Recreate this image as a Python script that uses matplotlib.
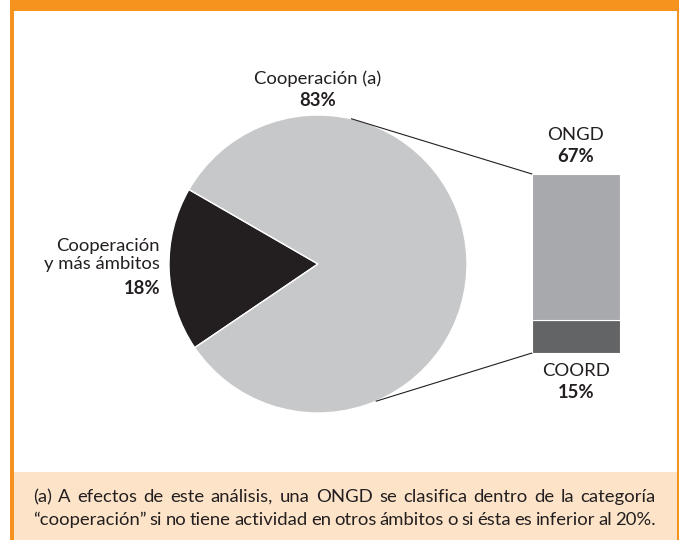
import matplotlib
matplotlib.use("Agg")
import matplotlib.pyplot as plt
import numpy as np

# datos
pie_labels = ["Cooperación\ny más ámbitos", "Cooperación (a)"]
pie_values = [18, 83]
pie_pct = ["18%", "83%"]
bar_labels = ["COORD", "ONGD"]
bar_values = [15, 67]
bar_pct = ["15%", "67%"]
nota = ["(a) A efectos de este análisis, una ONGD se clasifica dentro de la categoría",
        "\u201ccooperación\u201d si no tiene actividad en otros ámbitos o si ésta es inferior al 20%."]

# colores
naranja = "#f6921e"
melocoton = "#fde4c9"
gris_claro = "#c7c8ca"
negro = "#231f20"
gris_ongd = "#a7a9ac"
gris_coord = "#636466"
txt = "#231f20"

plt.rcParams['font.family'] = ['Lato', 'DejaVu Sans']
fs = 13.3

W, H = 679, 540
fig = plt.figure(figsize=(W / 100, H / 100), dpi=100)
ax = fig.add_axes([0, 0, 1, 1])

def Y(y):
    return H - y

# marco naranja
ax.add_patch(plt.Rectangle((10, Y(11)), W - 10, 11, color=naranja, lw=0))
ax.add_patch(plt.Rectangle((10, 0), 3.5, H, color=naranja, lw=0))
ax.add_patch(plt.Rectangle((676.5, 0), 3, H, color=naranja, lw=0))
ax.add_patch(plt.Rectangle((13.5, 0), 663, Y(472), color=melocoton, lw=0))

# tarta
cx, cy, r = 318, Y(264), 149
start = 150
ax.pie(pie_values, colors=[negro, gris_claro], startangle=start, center=(cx, cy),
       radius=r, wedgeprops=dict(edgecolor='white', linewidth=1), frame=True)
ax.set_xlim(0, W)
ax.set_ylim(0, H)
ax.set_aspect('equal')
ax.axis('off')

# etiquetas tarta
ax.text(160, Y(255), pie_labels[0], ha='right', va='center', fontsize=fs,
        color=txt, linespacing=1.2)
ax.text(160, Y(288), pie_pct[0], ha='right', va='center', fontsize=fs,
        color=txt, fontweight='bold')
ax.text(cx, Y(79), pie_labels[1], ha='center', va='center', fontsize=fs, color=txt)
ax.text(cx, Y(101), pie_pct[1], ha='center', va='center', fontsize=fs,
        color=txt, fontweight='bold')

# barra apilada
bx0, bx1, by0, by1 = 532, 620, 353, 174
bax = fig.add_axes([bx0 / W, Y(by0) / H, (bx1 - bx0) / W, (by0 - by1) / H])
bax.bar(0, bar_values[0], width=1, color=gris_coord, edgecolor='white', linewidth=0.8)
bax.bar(0, bar_values[1], width=1, bottom=bar_values[0], color=gris_ongd,
        edgecolor='white', linewidth=0.8)
bax.set_xlim(-0.5, 0.5)
bax.set_ylim(0, sum(bar_values))
bax.axis('off')

bxc = (bx0 + bx1) / 2
ax.text(bxc, Y(135), bar_labels[1], ha='center', va='center', fontsize=fs, color=txt)
ax.text(bxc, Y(157), bar_pct[1], ha='center', va='center', fontsize=fs,
        color=txt, fontweight='bold')
ax.text(bxc, Y(371), bar_labels[0], ha='center', va='center', fontsize=fs, color=txt)
ax.text(bxc, Y(393), bar_pct[0], ha='center', va='center', fontsize=fs,
        color=txt, fontweight='bold')

# lineas de union
for ang, yb in [(77, by1), (-67, by0)]:
    a = np.radians(ang)
    px, py = cx + r * np.cos(a), cy + r * np.sin(a)
    ax.plot([px, bx0], [py, Y(yb)], color=negro, lw=0.8)

# nota al pie (lineas justificadas)
fig.canvas.draw()
rend = fig.canvas.get_renderer()
x0, x1 = 33, 656
for linea, yl in zip(nota, [497, 520]):
    palabras = linea.split()
    objs = [ax.text(0, Y(yl), p, ha='left', va='center', fontsize=fs, color=txt)
            for p in palabras]
    anchos = [o.get_window_extent(rend).width for o in objs]
    hueco = (x1 - x0 - sum(anchos)) / (len(palabras) - 1)
    x = x0
    for o, w in zip(objs, anchos):
        o.set_x(x)
        x += w + hueco

fig.savefig("out.png", dpi=100)
